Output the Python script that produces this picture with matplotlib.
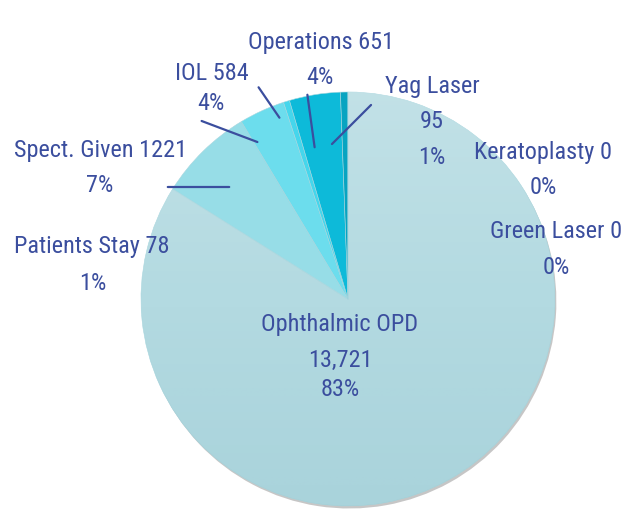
import matplotlib
matplotlib.use('Agg')
import matplotlib.pyplot as plt
import matplotlib.patheffects as pe
import numpy as np

plt.rcParams['font.family'] = ['Roboto Condensed', 'Open Sans Condensed',
                               'Liberation Sans Narrow', 'DejaVu Sans']
plt.rcParams['font.stretch'] = 'condensed'

# data, in the order drawn (clockwise from 12 o'clock)
labels = ['Ophthalmic OPD', 'Spect. Given', 'IOL', 'Patients Stay',
          'Operations', 'Yag Laser', 'Keratoplasty', 'Green Laser']
values = [13721, 1221, 584, 78, 651, 95, 0, 0]
pcts = ['83%', '7%', '4%', '1%', '4%', '1%', '0%', '0%']
colors = ['#B3DAE1', '#97DDE7', '#6CDDED', '#45D6EC', '#0DBAD9', '#08A4C1',
          '#08A4C1', '#08A4C1']

txt_color = '#3B4E9E'

fig = plt.figure(figsize=(6.21, 5.19), dpi=100)
W, H = 621, 519
cx, cy, R = 348, 299, 207
ax = fig.add_axes([(cx - R) / W, (H - cy - R) / H, 2 * R / W, 2 * R / H])

wedges, _ = ax.pie(values, colors=colors, startangle=90, counterclock=False,
                   radius=1, wedgeprops=dict(linewidth=0.4, edgecolor='#a8d6de'))
wedges[0].set_path_effects([pe.SimplePatchShadow(offset=(1, -1.8), alpha=0.3,
                                                 shadow_rgbFace='#444444'),
                            pe.Normal()])
ax.set_xlim(-1, 1)
ax.set_ylim(-1, 1)
ax.set_aspect('equal')
ax.axis('off')

# soft vertical shading on the big slice: lighter at top, a bit darker at bottom
t = np.linspace(0, 1, 256)[:, None]
shade = np.zeros((256, 1, 4))
top = t[:, 0] < 0.5
shade[top, :, :3] = 1.0
shade[~top, :, :3] = matplotlib.colors.to_rgb('#4F95A8')
shade[:, :, 3] = np.where(t < 0.5, (0.5 - t) * 0.4, (t - 0.5) * 0.2)
img = ax.imshow(shade, extent=(-1, 1, -1, 1), origin='upper', aspect='auto',
                zorder=1.5, interpolation='bilinear')
img.set_clip_path(wedges[0])


def P(px, py):
    # pixel position (from the top-left of the figure) -> pie data coords
    return ((px - cx) / R, (cy - py) / R)


fs = 17.5
def say(s, px, py, **kw):
    x, y = P(px, py)
    ax.text(x, y, s, ha='center', va='center', fontsize=fs, color=txt_color,
            clip_on=False, zorder=3, **kw)


# labels
say('Ophthalmic OPD', 340, 325)
say(f'{values[0]:,}', 340, 360)
say(pcts[0], 340, 390)

say(f'Operations {values[4]}', 321, 42)
say(pcts[4], 320, 78)

say(f'IOL {values[2]}', 212, 74)
say(pcts[2], 211, 104)

say(f'Spect. Given {values[1]}', 101, 150)
say(pcts[1], 100, 186)

say(f'Patients Stay {values[3]}', 92, 246)
say(pcts[3], 93, 283)

say(labels[5], 432, 86)
say(str(values[5]), 432, 122)
say(pcts[5], 432, 158)

say(f'{labels[6]} {values[6]}', 543, 153)
say(pcts[6], 543, 188)

say(f'{labels[7]} {values[7]}', 556, 232)
say(pcts[7], 556, 268)

# leader lines (label point -> inside slice)
leaders = [((307, 92), (315, 150)),
           ((373, 103), (330, 146)),
           ((257, 85), (281, 120)),
           ((199, 120), (260, 143)),
           ((165, 187), (232, 187))]
for a, b in leaders:
    ax.annotate('', xy=P(*b), xytext=P(*a),
                arrowprops=dict(arrowstyle='-', color=txt_color, lw=1.6),
                annotation_clip=False, zorder=3)

fig.savefig('out.png', dpi=100)
